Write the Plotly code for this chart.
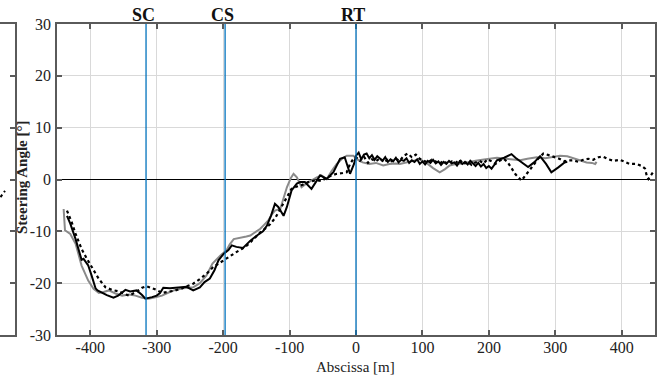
import plotly.graph_objects as go

W, H = 660, 380

# ---------------- data ----------------
markers = ["SC", "CS", "RT"]
marker_x = [-316, -197, 0]

black_x = [-435, -430, -422, -417, -413, -410, -403, -398, -392, -389, -383, -375, -365, -358,
           -352, -347, -340, -330, -322, -317, -307, -300, -295, -290, -280, -272, -265, -255,
           -245, -235, -228, -220, -213, -207, -199, -192, -187, -180, -170, -159, -149, -140,
           -134, -128, -122, -117, -109, -104, -97, -89, -84, -77, -67, -60, -54, -44, -34,
           -24, -17, -9, -3,
           0, 4, 8, 12, 16, 20, 24, 28, 32, 36, 40, 44, 48, 52, 56, 60, 64, 68, 72, 76, 80,
           84, 88, 92, 96, 100, 104, 108, 112, 116, 120, 124, 128, 132, 136, 140, 144, 148,
           152, 156, 160, 164, 168, 172, 176, 180, 184, 188, 192, 196, 200, 204, 208,
           212, 223, 234, 240, 250, 259, 268, 277, 286, 294, 304, 314, 318]
black_y = [-7.0, -8.5, -11.5, -13.5, -15.5, -15.3, -16.6, -18.5, -21.0, -21.4, -21.8, -22.3, -22.8, -22.4,
           -21.8, -21.3, -21.6, -21.4, -22.3, -23.0, -22.7, -22.4, -21.9, -20.9, -21.0, -20.9, -20.8, -20.7,
           -21.4, -20.8, -19.8, -19.1, -17.5, -15.6, -14.3, -13.6, -12.7, -13.0, -13.2, -11.8, -10.8, -10.0,
           -8.9, -7.0, -4.7, -5.3, -7.0, -5.3, -2.1, -0.8, -0.5, -0.5, -1.8, -0.5, 0.8, 0.1, 1.4,
           4.0, 4.3, 1.1, 3.0,
           4.6, 5.2, 3.9, 4.8, 5.0, 4.1, 4.7, 3.8, 4.5, 4.0, 3.6, 4.3, 3.4, 3.9, 3.5, 4.2, 3.3, 3.8, 3.6, 4.1, 3.2,
           3.7, 3.4, 3.9, 3.0, 3.5, 2.9, 3.6, 3.2, 3.8, 3.1, 3.5, 2.8, 3.4, 3.0, 3.6, 3.1, 3.3,
           2.7, 3.5, 3.0, 3.4, 2.9, 3.6, 3.0, 2.6, 3.2, 2.5, 3.0, 2.2, 2.6, 2.1, 2.8,
           3.7, 4.2, 4.9, 4.2, 3.2, 2.4, 3.3, 4.5, 3.0, 1.4, 2.3, 3.3, 3.4]

gray_x = [-440, -438, -430, -422, -413, -403, -395, -387, -380, -372, -362, -352, -342, -332,
          -322, -312, -302, -292, -282, -272, -260, -245, -235, -225, -216, -209, -202, -195,
          -190, -184, -174, -165, -159, -152, -144, -138, -132, -127, -122, -114, -109, -104,
          -98, -94, -89, -82, -75, -68, -59, -52, -44, -37, -29, -21, -14, -4, 4,
          10, 20, 30, 41, 50, 60, 66, 76, 86, 96, 106, 116, 126, 134, 141, 150, 160, 171,
          180, 190, 202, 212, 227, 237, 247, 258, 272, 285, 297, 307, 318, 328, 337, 347,
          355, 360, 362]
gray_y = [-5.7, -9.8, -10.5, -12.4, -16.6, -19.5, -21.1, -21.9, -21.7, -21.4, -22.0, -22.4, -22.2, -22.4,
          -22.8, -23.0, -22.7, -22.4, -21.8, -21.3, -21.0, -20.8, -20.0, -18.5, -16.2, -15.2, -14.4, -13.7,
          -12.5, -11.5, -11.3, -11.0, -10.8, -10.2, -9.5, -8.7, -7.9, -6.8, -6.0, -5.7, -3.5, -1.5,
          0.3, 1.1, 0.4, -1.5, -0.8, -0.2, 0.4, 0.8, 0.1, 1.6, 3.0, 4.0, 4.6, 4.6, 3.7,
          3.3, 3.0, 3.2, 2.7, 3.0, 3.1, 3.0, 3.3, 3.5, 3.9, 3.2, 2.2, 1.4, 2.0, 2.7, 3.0, 3.1, 3.3,
          3.6, 3.8, 4.0, 4.2, 4.0, 3.8, 3.7, 4.0, 4.3, 4.1, 4.4, 4.6, 4.5, 4.1, 3.7, 3.3,
          3.2, 3.0, 3.4]

dot_x = [-435, -428, -422, -413, -405, -398, -392, -387, -377, -367, -357, -350, -342, -332,
         -322, -315, -307, -300, -292, -282, -272, -262, -255, -245, -235, -225, -215, -200,
         -190, -180, -172, -164, -154, -144, -136, -129, -121, -114, -109, -104, -97, -90,
         -84, -72, -60, -52, -44, -36, -29, -22, -14, -9, -4,
         0, 6, 12, 18, 24, 30, 36, 42, 48, 54, 60, 66, 72, 78, 84, 90, 96, 102, 108, 114,
         120, 126, 132, 138, 144, 150, 156, 162, 168, 174, 180, 186, 192, 198, 204, 210,
         216, 222, 228, 234, 240, 249, 258, 266, 274, 282, 290, 298, 306, 314, 320, 327,
         335, 342, 350, 357, 365, 372, 380, 388, 397, 405, 412, 422, 430, 435, 438, 440,
         444, 447]
dot_y = [-6.0, -8.2, -10.5, -13.4, -15.3, -16.9, -18.3, -19.2, -20.8, -21.3, -21.6, -22.0, -22.4, -21.8,
         -20.9, -20.6, -20.9, -21.3, -21.9, -21.7, -21.4, -21.0, -20.6, -20.1, -19.2, -18.2, -16.9, -15.6,
         -14.8, -14.0, -13.4, -12.7, -11.5, -10.2, -9.4, -8.6, -7.3, -5.7, -4.6, -3.4, -1.8, -1.4,
         -1.2, -0.5, -0.1, -0.3, 0.4, 0.8, 1.1, 1.2, 1.4, 3.0, 4.0,
         4.3, 3.6, 4.4, 3.2, 3.9, 3.5, 4.1, 3.3, 3.8, 3.5, 4.0, 3.6, 4.6, 5.0, 4.3, 4.8, 4.0, 3.7, 3.3, 3.8,
         3.4, 3.1, 3.6, 3.0, 3.5, 3.2, 3.8, 3.0, 3.4, 2.8, 3.3, 3.6, 3.1, 3.9, 3.5, 3.0,
         3.6, 4.0, 3.4, 2.2, 1.0, -0.2, 1.2, 2.6, 4.0, 5.0, 4.7, 4.4, 4.0, 3.5, 3.7, 3.7,
         3.4, 3.8, 4.0, 3.8, 4.3, 4.4, 3.9, 3.6, 3.8, 3.4, 3.0, 3.0, 2.6, 2.1, 0.5, 0.1,
         1.0, 1.4]

# fragment of the neighbouring (cropped) panel on the left
left_x = [0.5, 2.0, 3.5, 5.0]
left_y = [-3.4, -3.0, -2.6, -2.2]

x_ticks = [-400, -300, -200, -100, 0, 100, 200, 300, 400]
x_ticktext = ["-400", "-300", "-200", "-100", "0", "100", "200", "300", "400"]
y_ticks = [-30, -20, -10, 0, 10, 20, 30]
y_ticktext = ["-30", "-20", "-10", "0", "10", "20", "30"]

# ---------------- figure ----------------
SERIF = "Liberation Serif"
FRAME = "#5a5a5a"
BLUE = "#0072BD"
TICKFONT = dict(family=SERIF, size=16, color="#222222")

fig = go.Figure()

fig.add_trace(go.Scatter(x=gray_x, y=gray_y, mode="lines",
                         line=dict(color="#8a8a8a", width=2), showlegend=False))
fig.add_trace(go.Scatter(x=black_x, y=black_y, mode="lines",
                         line=dict(color="#000000", width=2), showlegend=False))
fig.add_trace(go.Scatter(x=dot_x, y=dot_y, mode="lines",
                         line=dict(color="#000000", width=2.2, dash="dot"), showlegend=False))
fig.add_trace(go.Scatter(x=left_x, y=left_y, mode="lines", xaxis="x2", yaxis="y2",
                         line=dict(color="#000000", width=2, dash="dot"), showlegend=False))

x0p, x1p = 57 / W, 655 / W
y0p, y1p = (H - 335) / H, (H - 24) / H

fig.update_layout(
    width=W, height=H, autosize=False,
    margin=dict(l=0, r=0, t=0, b=0, pad=0, autoexpand=False),
    paper_bgcolor="white", plot_bgcolor="white",
    font=dict(family=SERIF, size=16, color="#222222"),
    xaxis=dict(domain=[x0p, x1p], range=[-450, 450], tickvals=x_ticks, ticktext=x_ticktext,
               zeroline=False, showline=True, linecolor=FRAME, linewidth=1.5, mirror="ticks",
               ticks="inside", ticklen=5, tickcolor=FRAME, tickwidth=1.5,
               showgrid=True, gridcolor="#d9d9d9", gridwidth=1, automargin=False,
               tickfont=TICKFONT, ticklabelstandoff=-3),
    yaxis=dict(domain=[y0p, y1p], range=[-30, 30], tickvals=y_ticks, ticktext=y_ticktext,
               zeroline=True, zerolinecolor="#000000", zerolinewidth=1.3,
               showline=True, linecolor=FRAME, linewidth=1.5, mirror="ticks",
               ticks="inside", ticklen=5, tickcolor=FRAME, tickwidth=1.5,
               showgrid=True, gridcolor="#d9d9d9", gridwidth=1, automargin=False,
               tickfont=TICKFONT, ticklabelstandoff=1),
    xaxis2=dict(domain=[0, 15 / W], range=[0, 15], anchor="y2", showline=True,
                linecolor=FRAME, linewidth=1.5, mirror=True, showgrid=False, automargin=False,
                zeroline=False, showticklabels=False, ticks=""),
    yaxis2=dict(domain=[y0p, y1p], range=[-30, 30], anchor="x2", side="right",
                tickvals=y_ticks, showline=True, linecolor=FRAME, linewidth=1.5,
                ticks="inside", ticklen=5, tickcolor=FRAME, tickwidth=1.5, automargin=False,
                showticklabels=False, showgrid=False, zeroline=False),
)

for name, mx in zip(markers, marker_x):
    fig.add_shape(type="line", xref="x", yref="y", x0=mx, x1=mx, y0=-30, y1=30,
                  line=dict(color=BLUE, width=1.3), layer="above")
    fig.add_annotation(x=mx, xref="x", y=(H - 15) / H, yref="paper", text="<b>" + name + "</b>",
                       showarrow=False, xshift=-3, yanchor="middle",
                       font=dict(family=SERIF, size=18, color="#111111"))

fig.add_annotation(x=355 / W, xref="paper", y=(H - 367) / H, yref="paper",
                   text="Abscissa [m]", showarrow=False, yanchor="middle",
                   font=dict(family=SERIF, size=15, color="#222222"))
fig.add_annotation(x=22 / W, xref="paper", y=(H - 178) / H, yref="paper",
                   text="<b>Steering Angle [°]</b>", showarrow=False, textangle=-90,
                   xanchor="center", yanchor="middle",
                   font=dict(family=SERIF, size=15, color="#222222"))

fig.write_html("out.html")
